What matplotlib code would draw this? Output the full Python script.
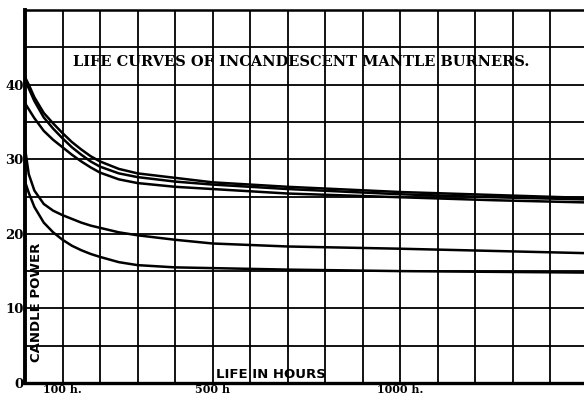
import matplotlib
matplotlib.use("Agg")
import matplotlib.pyplot as plt

# hours of burning
hours = [0, 10, 25, 50, 75, 100, 125, 150, 175, 200, 250, 300, 400, 500, 700, 1000, 1250, 1500]

# candle power of the five burners
burner_1 = [41.0, 40.0, 38.3, 36.2, 34.8, 33.5, 32.3, 31.3, 30.4, 29.7, 28.7, 28.1, 27.5, 26.9, 26.3, 25.6, 25.2, 24.8]
burner_2 = [40.5, 39.5, 37.8, 35.6, 34.1, 32.8, 31.6, 30.6, 29.7, 29.0, 28.1, 27.6, 27.0, 26.6, 26.0, 25.3, 24.9, 24.6]
burner_3 = [37.5, 36.7, 35.5, 33.8, 32.6, 31.6, 30.6, 29.7, 28.9, 28.2, 27.3, 26.8, 26.3, 26.0, 25.4, 24.9, 24.5, 24.2]
burner_4 = [31.5, 28.0, 25.8, 24.0, 23.1, 22.5, 22.0, 21.5, 21.1, 20.8, 20.2, 19.8, 19.2, 18.7, 18.3, 18.0, 17.7, 17.4]
burner_5 = [27.0, 25.5, 23.6, 21.5, 20.2, 19.2, 18.4, 17.8, 17.3, 16.9, 16.2, 15.8, 15.5, 15.4, 15.2, 15.0, 14.9, 14.8]

y_ticks = [0, 10, 20, 30, 40]
x_ticks = [100, 500, 1000]
x_labels = ["100 h.", "500 h", "1000 h."]

fig = plt.figure(figsize=(5.84, 4.0), dpi=100)
ax = fig.add_axes([0.0428, 0.0425, 0.9572, 0.9325])

for b in (burner_1, burner_2, burner_3, burner_4, burner_5):
    ax.plot(hours, b, color="black", lw=1.8, solid_capstyle="round",
            solid_joinstyle="round", zorder=3)

ax.set_xlim(0, 1490)
ax.set_ylim(0, 50)

for h in range(100, 1600, 100):
    ax.axvline(h, color="black", lw=1.3, zorder=1)
for c in range(5, 50, 5):
    ax.axhline(c, color="black", lw=1.3, zorder=1)

ax.spines["right"].set_visible(False)
ax.spines["left"].set_linewidth(2.8)
ax.spines["bottom"].set_linewidth(2.4)
ax.spines["top"].set_linewidth(1.8)

ax.set_yticks(y_ticks)
ax.set_yticklabels([str(v) for v in y_ticks], family="DejaVu Serif",
                   fontweight="bold", fontsize=9.5)
ax.set_xticks(x_ticks)
ax.set_xticklabels(x_labels, family="DejaVu Serif", fontweight="bold", fontsize=8)
ax.tick_params(length=0, pad=1)

ax.text(736, 43.0, "LIFE CURVES OF INCANDESCENT MANTLE BURNERS.",
        family="DejaVu Serif", fontweight="bold", fontsize=10.5,
        ha="center", va="center")
ax.text(30, 10.8, "CANDLE POWER", rotation=90, family="DejaVu Sans",
        fontweight="bold", fontsize=9.5, ha="center", va="center")
ax.text(656, 1.2, "LIFE IN HOURS", family="DejaVu Sans",
        fontweight="bold", fontsize=9.5, ha="center", va="center")

fig.savefig("out.png", dpi=100)
